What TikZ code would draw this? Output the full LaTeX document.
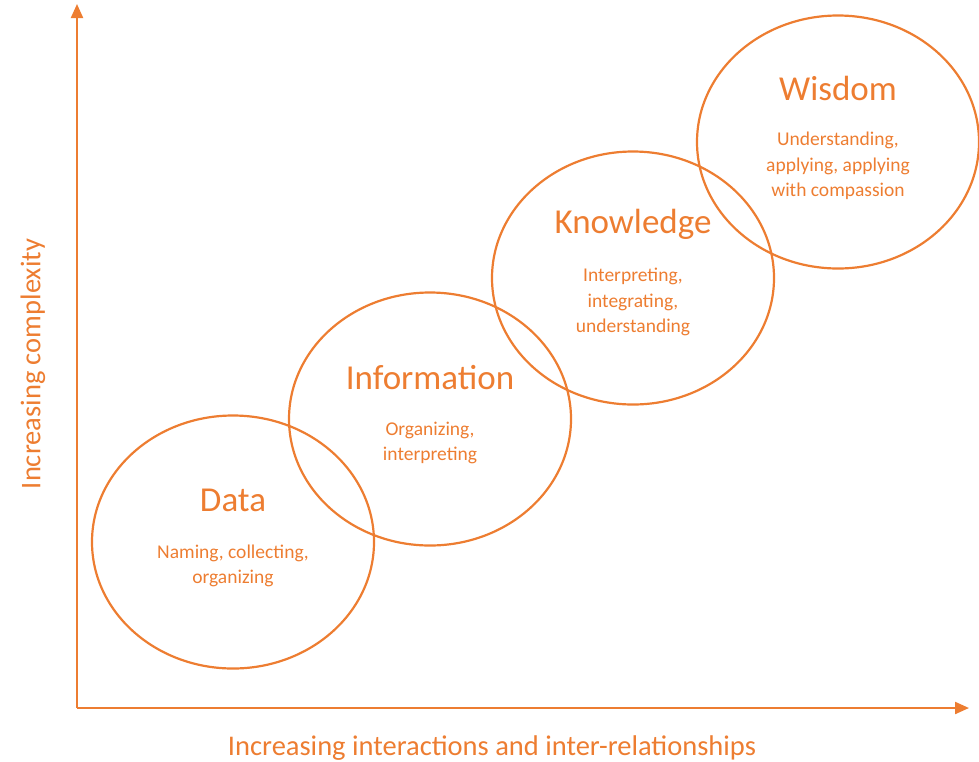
\documentclass[tikz,border=0pt]{standalone}
\usepackage{fontspec}
\setmainfont{Carlito}
\usetikzlibrary{shapes.geometric,arrows.meta}
\definecolor{dikw}{HTML}{ED7D31}
\begin{document}
\begin{tikzpicture}[x=1pt,y=-1pt,
  circ/.style={draw=dikw,line width=2.2pt,ellipse,minimum width=282pt,minimum height=253pt,inner sep=0pt,outer sep=0pt},
  ttl/.style={text=dikw,font=\fontsize{35}{40}\selectfont,inner sep=0pt},
  sub/.style={text=dikw,font=\fontsize{19.5}{25.5}\selectfont,align=center,inner sep=0pt},
  axlab/.style={text=dikw,font=\fontsize{28.5}{32}\selectfont,inner sep=0pt},
  axis/.style={draw=dikw,line width=2.2pt,-{Triangle[length=14pt,width=12pt]}}]
\useasboundingbox (0,0) rectangle (979,761);
\coordinate (O) at (77,708);
\coordinate (Ytop) at (77,4);
\coordinate (Xend) at (969,708);
\draw[axis] (O) -- (Ytop);
\draw[axis] (O) -- (Xend);
\node[circ] (data) at (233,542) {};
\node[circ] (info) at (430,419) {};
\node[circ] (know) at (633,278) {};
\node[circ] (wis) at (838,142) {};
\node[ttl] (tdata) at (233,500) {Data};
\node[sub] (sdata) at (233,566) {Naming, collecting,\\organizing};
\node[ttl] (tinfo) at (430,378) {Information};
\node[sub] (sinfo) at (430,443) {Organizing,\\interpreting};
\node[ttl] (tknow) at (633,224) {Knowledge};
\node[sub] (sknow) at (633,302) {Interpreting,\\integrating,\\understanding};
\node[ttl] (twis) at (838,88) {Wisdom};
\node[sub] (swis) at (838,166) {Understanding,\\applying, applying\\with compassion};
\node[axlab,rotate=90] (ylab) at (33,364) {Increasing complexity};
\node[axlab] (xlab) at (492,748) {Increasing interactions and inter-relationships};
\end{tikzpicture}
\end{document}
